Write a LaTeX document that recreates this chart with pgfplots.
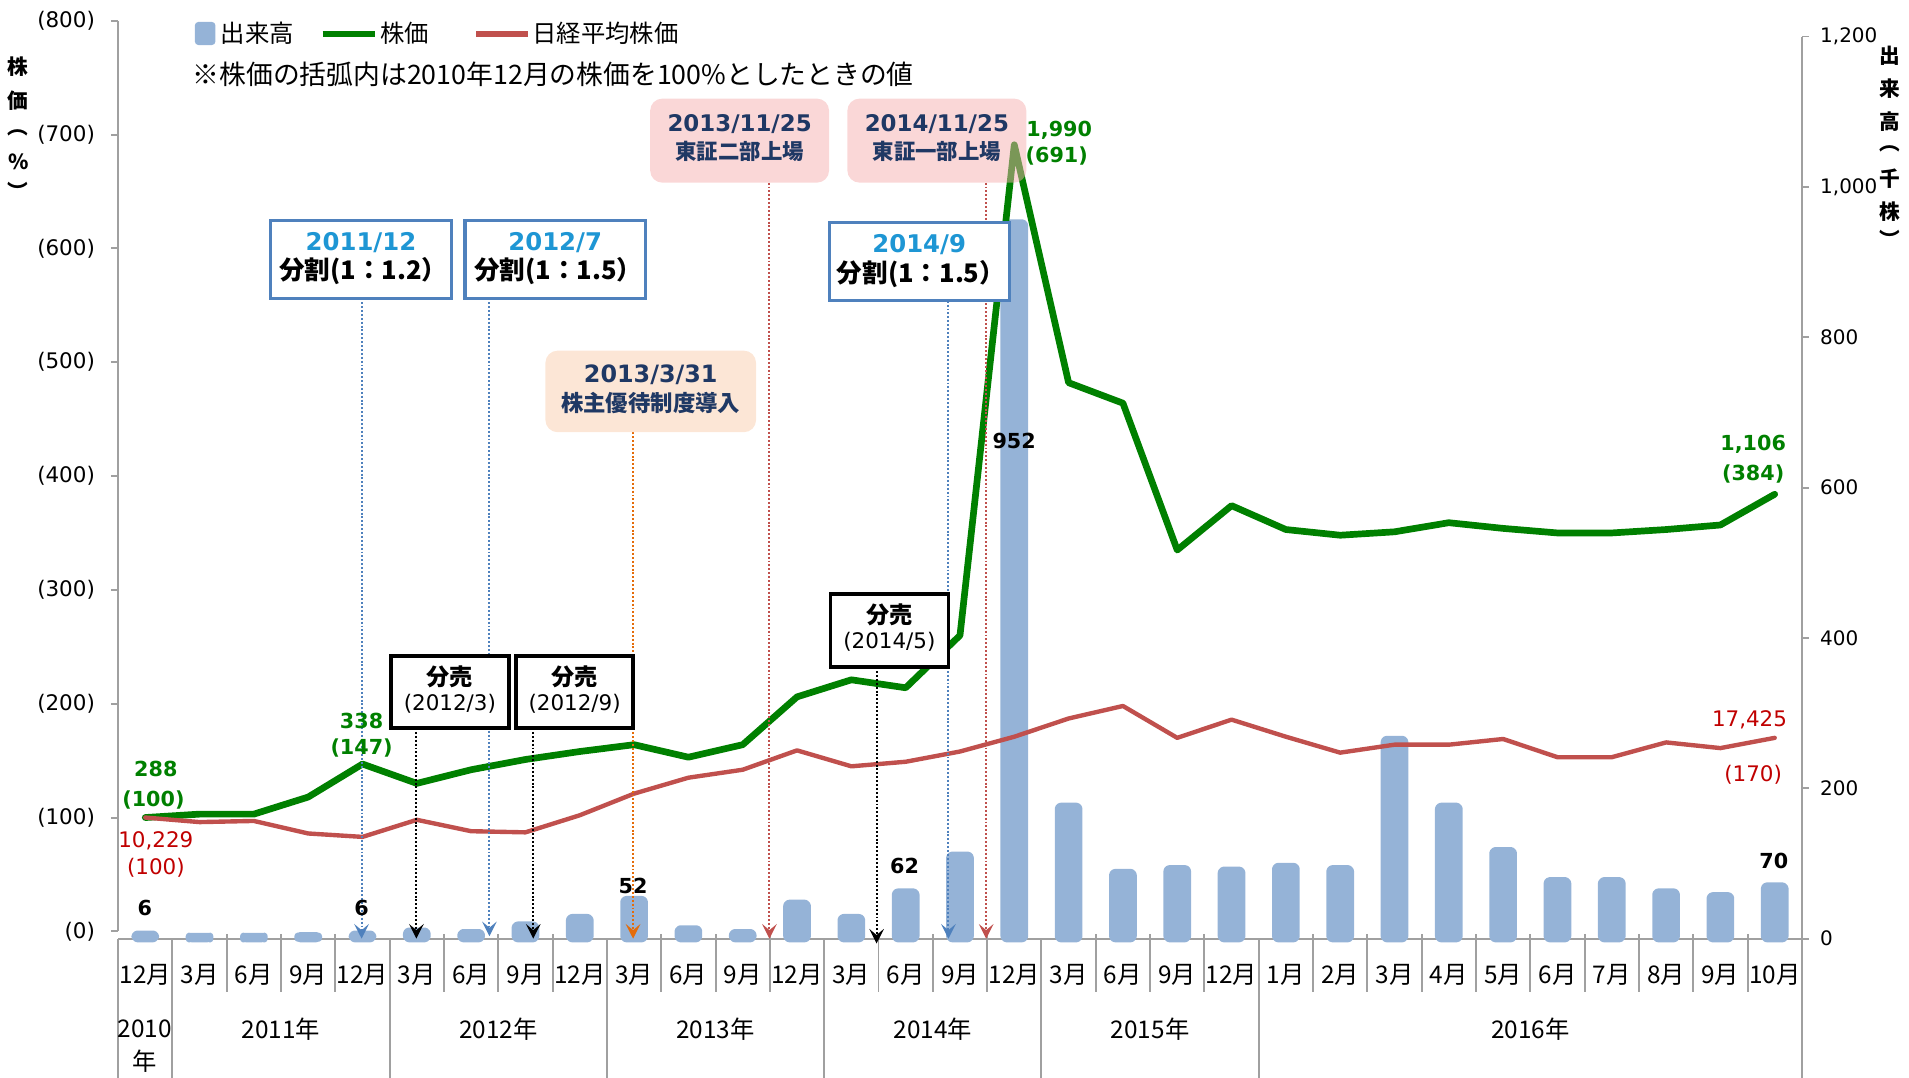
\documentclass[border=0pt]{standalone}
\usepackage{pgfplots}
\pgfplotsset{compat=1.18}
\usepackage{pgfplotstable}
\usepackage{fontspec}
\setmainfont{DejaVu Sans}
\newfontfamily\jp{Noto Sans CJK JP}
\usetikzlibrary{arrows.meta}
\definecolor{barblue}{RGB}{149,179,215}
\definecolor{pgreen}{RGB}{0,128,0}
\definecolor{nred}{RGB}{192,80,77}
\definecolor{lred}{RGB}{192,0,0}
\definecolor{axgray}{RGB}{160,160,160}
\definecolor{boxblue}{RGB}{79,129,189}
\definecolor{dateblue}{RGB}{30,150,212}
\definecolor{navy}{RGB}{31,56,100}
\definecolor{pinkbox}{RGB}{245,175,175}
\definecolor{peachbox}{RGB}{252,230,214}
\definecolor{arrorange}{RGB}{228,108,10}

\pgfplotstableread{
x vol price nikkei
0 6 100 100
1 3 103 96
2 3 103 97
3 4 118 86
4 6 147 83
5 10 130 98
6 8 142 88
7 18 151 87
8 28 158 102
9 52 164 121
10 13 153 135
11 8 164 142
12 47 206 159
13 28 221 145
14 62 214 149
15 111 260 158
16 952 691 171
17 176 482 187
18 88 464 198
19 93 335 170
20 91 374 186
21 96 353 171
22 93 348 157
23 265 351 164
24 176 359 164
25 117 354 169
26 77 350 153
27 77 350 153
28 62 353 166
29 57 357 161
30 70 384 170
}\data

\begin{document}
\begin{tikzpicture}
\path[use as bounding box] (-48.5pt,-57pt) rectangle (735.5pt,385.5pt);
% main axis: volume (right axis)
\begin{axis}[
  at={(0pt,0pt)}, anchor=south west, scale only axis,
  width=691.5pt, height=370.5pt,
  xmin=-0.5, xmax=30.5, ymin=0, ymax=1200,
  axis x line*=bottom, axis y line*=right,
  axis line style={draw=axgray, line width=0.8pt, -},
  xtick={0,...,30},
  xticklabels={12月,3月,6月,9月,12月,3月,6月,9月,12月,3月,6月,9月,12月,3月,6月,9月,12月,3月,6月,9月,12月,1月,2月,3月,4月,5月,6月,7月,8月,9月,10月},
  x tick label style={font=\jp\fontsize{10}{12}\selectfont, anchor=center, yshift=-12pt},
  x tick style={draw=none},
  ytick={0,200,...,1200},
  y tick label style={font=\fontsize{8.2}{10}\selectfont, xshift=1pt},
  /pgf/number format/assume math mode=true,
  tick align=outside, major tick length=3pt,
  y tick style={draw=axgray, line width=0.8pt},
  clip=false,
]
\addplot[ybar, bar width=0.375, fill=barblue, draw=barblue, line width=3pt, line join=round, rounded corners=1pt] table[x=x,y=vol]{\data};
\end{axis}
% price axis (left)
\begin{axis}[
  at={(0pt,3pt)}, anchor=south west, scale only axis,
  width=691.5pt, height=374pt,
  xmin=-0.5, xmax=30.5, ymin=0, ymax=800,
  hide x axis, axis y line*=left,
  axis line style={draw=axgray, line width=0.8pt, -},
  ytick={0,100,...,800},
  yticklabels={(0),(100),(200),(300),(400),(500),(600),(700),(800)},
  y tick label style={font=\fontsize{8.8}{10}\selectfont, xshift=-3pt},
  tick align=outside, major tick length=3pt,
  y tick style={draw=axgray, line width=0.8pt},
  clip=false,
]
\addplot[pgreen, line width=2.75pt, line join=round, line cap=round] table[x=x,y=price]{\data};
\addplot[nred, line width=1.8pt, line join=round, line cap=round] table[x=x,y=nikkei]{\data};
\end{axis}

\begin{scope}[x=0.5pt,y=-0.5pt,shift={(-48.5pt,385.5pt)}]
% category table separators
\foreach \k in {2,3,4,6,7,8,10,11,12,14,15,16,18,19,20,22,23,24,25,26,27,28,29,30}
  {\draw[axgray, line width=0.8pt] ({97+44.613*\k},767) -- ({97+44.613*\k},815);}
\foreach \k in {0,1,5,9,13,17,21,31}
  {\draw[axgray, line width=0.8pt] ({97+44.613*\k},771) -- ({97+44.613*\k},886);}
% year labels
\begin{scope}[every node/.style={font=\jp\fontsize{10}{12}\selectfont}]
\node at (119,845) {2010};
\node at (119,872) {年};
\node at (230.8,845) {2011年};
\node at (409.3,845) {2012年};
\node at (587.7,845) {2013年};
\node at (766.2,845) {2014年};
\node at (944.7,845) {2015年};
\node at (1257,845) {2016年};
\end{scope}
% axis titles
\begin{scope}[every node/.style={font=\jp\bfseries\fontsize{8.5}{10}\selectfont, inner sep=0pt}]
\node at (15,55) {株};
\node at (15,83) {価};
\node at (15,109) {︵};
\node at (15,133) {\%};
\node at (15,157) {︶};
\node at (1552,46) {出};
\node at (1552,73) {来};
\node at (1552,100) {高};
\node at (1552,122) {︵};
\node at (1552,147) {千};
\node at (1552,174) {株};
\node at (1552,196) {︶};
\end{scope}
% legend
\fill[barblue, rounded corners=1.5pt] (160,18) rectangle (177,37);
\node[anchor=west, font=\jp\fontsize{10}{12}\selectfont, inner sep=0pt] at (181,27) {出来高};
\draw[pgreen, line width=2.75pt] (265,28) -- (308,28);
\node[anchor=west, font=\jp\fontsize{10}{12}\selectfont, inner sep=0pt] at (312,27) {株価};
\draw[nred, line width=2.5pt] (391,28) -- (434,28);
\node[anchor=west, font=\jp\fontsize{10}{12}\selectfont, inner sep=0pt] at (437,27) {日経平均株価};
\node[anchor=west, font=\jp\fontsize{11}{13}\selectfont, inner sep=0pt] at (158,61) {※株価の括弧内は2010年12月の株価を100\%としたときの値};
% dotted arrows
\tikzset{darr/.style={line width=0.8pt, dash pattern=on 0.8pt off 0.8pt, -{Stealth[length=6pt,width=6pt,inset=2.5pt]}}}
\draw[darr, boxblue] (297,245) -- (297,771);
\draw[darr, boxblue] (402,245) -- (402,769);
\draw[darr, black] (342,598) -- (342,771);
\draw[darr, black] (438,598) -- (438,771);
\draw[darr, arrorange] (520,355) -- (520,771);
\draw[darr, nred] (632,150) -- (632,771);
\draw[darr, black] (720,548) -- (720,775);
\draw[darr, boxblue] (779,247) -- (779,771);
\draw[darr, nred] (810,150) -- (810,771);
% blue split boxes
\tikzset{bbox/.style={draw=boxblue, line width=1.3pt, fill=white, inner sep=0pt}}
\draw[bbox] (222,181) rectangle (371,245);
\node[font=\bfseries\fontsize{10}{12}\selectfont, text=dateblue] at (296.5,199) {2011/12};
\node[font=\jp\bfseries\fontsize{10.5}{12}\selectfont] at (298.5,223) {分割(1：1.2）};
\draw[bbox] (382,181) rectangle (530,245);
\node[font=\bfseries\fontsize{10}{12}\selectfont, text=dateblue] at (456,199) {2012/7};
\node[font=\jp\bfseries\fontsize{10.5}{12}\selectfont] at (458.5,223) {分割(1：1.5）};
\draw[bbox] (681,183) rectangle (829,247);
\node[font=\bfseries\fontsize{10}{12}\selectfont, text=dateblue] at (755,201) {2014/9};
\node[font=\jp\bfseries\fontsize{10.5}{12}\selectfont] at (756.5,225) {分割(1：1.5）};
% black sale boxes
\tikzset{kbox/.style={draw=black, line width=1.5pt, fill=white}}
\draw[kbox] (321,539) rectangle (418,598);
\node[font=\jp\bfseries\fontsize{9.5}{11}\selectfont] at (369.5,556) {分売};
\node[font=\fontsize{8.8}{10}\selectfont] at (369.5,578) {(2012/3)};
\draw[kbox] (424,539) rectangle (520,598);
\node[font=\jp\bfseries\fontsize{9.5}{11}\selectfont] at (472,556) {分売};
\node[font=\fontsize{8.8}{10}\selectfont] at (472,578) {(2012/9)};
\draw[kbox] (682,488) rectangle (779,548);
\node[font=\jp\bfseries\fontsize{9.5}{11}\selectfont] at (730.5,505) {分売};
\node[font=\fontsize{8.8}{10}\selectfont] at (730.5,527) {(2014/5)};
% peach box
\fill[peachbox, rounded corners=5pt] (448,288) rectangle (621,355);
\node[font=\bfseries\fontsize{9.8}{12}\selectfont, text=navy] at (534.5,308) {2013/3/31};
\node[font=\jp\bfseries\fontsize{9.2}{11}\selectfont, text=navy] at (534.5,331) {株主優待制度導入};
% pink boxes
\fill[pinkbox, fill opacity=0.5, rounded corners=5pt] (534,81) rectangle (681,150);
\node[font=\bfseries\fontsize{9.4}{12}\selectfont, text=navy] at (607.5,102) {2013/11/25};
\node[font=\jp\bfseries\fontsize{8.8}{11}\selectfont, text=navy] at (607.5,124) {東証二部上場};
\fill[pinkbox, fill opacity=0.5, rounded corners=5pt] (696,81) rectangle (843,150);
\node[font=\bfseries\fontsize{9.4}{12}\selectfont, text=navy] at (769.5,102) {2014/11/25};
\node[font=\jp\bfseries\fontsize{8.8}{11}\selectfont, text=navy] at (769.5,124) {東証一部上場};
% data labels
\begin{scope}[every node/.style={font=\bfseries\fontsize{8.5}{10}\selectfont, text=pgreen, inner sep=0pt}]
\node at (128,632) {288};
\node at (126,657) {(100)};
\node at (297,592) {338};
\node at (297,614) {(147)};
\node at (870,107) {1,990};
\node at (868,128) {(691)};
\node at (1440,365) {1,106};
\node at (1440,389) {(384)};
\end{scope}
\begin{scope}[every node/.style={font=\fontsize{8.8}{10}\selectfont, text=lred, inner sep=0pt}]
\node at (128,691) {10,229};
\node at (128,713) {(100)};
\node at (1437,591) {17,425};
\node at (1440,636) {(170)};
\end{scope}
\begin{scope}[every node/.style={font=\bfseries\fontsize{8.5}{10}\selectfont, inner sep=0pt}]
\node at (119,746) {6};
\node at (297,746) {6};
\node at (520,728) {52};
\node at (743,711) {62};
\node at (833,362) {952};
\node at (1457,707) {70};
\end{scope}
\end{scope}
\end{tikzpicture}
\end{document}
